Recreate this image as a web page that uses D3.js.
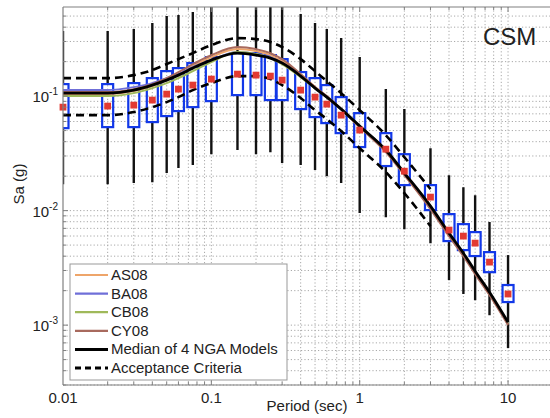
<!DOCTYPE html>
<html><head><meta charset="utf-8">
<script src="https://cdn.jsdelivr.net/npm/d3@7"></script>
<style>
body{margin:0;background:#fff}
svg{display:block}
text{font-family:"Liberation Sans",Arial,Helvetica,sans-serif;fill:#222}
</style>
</head><body>
<svg id="c" width="550" height="418"></svg>
<script>
// ---- data (Sa in g vs period in sec) ----
const periods = [0.01,0.02,0.03,0.04,0.05,0.06,0.075,0.1,0.15,0.2,0.25,0.3,0.4,0.5,0.6,0.75,1,1.5,2,3,4,5,6,7.5,10];
const recMedian = [0.0801,0.0818,0.0834,0.0923,0.1041,0.1151,0.1248,0.1408,0.1556,0.1525,0.1495,0.1379,0.1128,0.0980,0.0851,0.0682,0.0505,0.0344,0.0221,0.01312,0.00676,0.00599,0.00520,0.00355,0.00187];
const boxHigh = [0.1273,0.1273,0.1299,0.1436,0.1653,0.1756,0.1942,0.2191,0.2374,0.2374,0.2281,0.2104,0.1621,0.1436,0.1248,0.0980,0.0710,0.0475,0.0311,0.0167,0.00932,0.00762,0.00649,0.00434,0.00224];
const boxLow = [0.0525,0.0536,0.0536,0.0593,0.0669,0.0740,0.0801,0.0904,0.1020,0.1020,0.0923,0.0923,0.0770,0.0656,0.0581,0.0475,0.0359,0.0245,0.0167,0.0101,0.00542,0.00452,0.00401,0.00290,0.00159];
const whiskerHigh = [0.3695,0.3695,0.3848,0.4341,0.4997,0.5099,0.5417,0.762,0.762,0.762,0.762,0.762,0.5203,0.4341,0.3848,0.3210,0.2191,0.1151,0.0770,0.0351,0.0204,0.0160,0.01365,0.00794,0.00409];
const whiskerLow = [0.0170,0.0170,0.0174,0.0177,0.0213,0.0235,0.0250,0.0311,0.0338,0.0311,0.0324,0.0260,0.0250,0.0226,0.0200,0.0174,0.00951,0.00877,0.00689,0.00520,0.00247,0.00187,0.00165,0.00122,0.00063];

const as08 = [0.1041,0.1041,0.1105,0.1223,0.1379,0.1556,0.1828,0.2190,0.2573,0.2473,0.2280,0.2022,0.1525,0.1199,0.0980,0.0770,0.0536,0.0331,0.0205,0.01052,0.00611,0.00408,0.00284,0.00186,0.00102];
const ba08 = [0.1128,0.1128,0.1198,0.1299,0.1436,0.1556,0.1792,0.2062,0.2422,0.2327,0.2191,0.1942,0.1495,0.1175,0.0980,0.0770,0.0547,0.0338,0.0209,0.01073,0.00623,0.00417,0.00290,0.00190,0.00104];
const cb08 = [0.1000,0.1000,0.1062,0.1175,0.1298,0.1436,0.1653,0.1981,0.2422,0.2327,0.2147,0.1903,0.1465,0.1175,0.0980,0.0770,0.0547,0.0338,0.0213,0.01095,0.00623,0.00417,0.00290,0.00190,0.00104];
const cy08 = [0.1084,0.1084,0.1151,0.1273,0.1436,0.1620,0.1903,0.2279,0.2678,0.2573,0.2373,0.2105,0.1556,0.1199,0.1000,0.0770,0.0536,0.0325,0.0205,0.01031,0.00599,0.00400,0.00279,0.00183,0.00100];
const ngaMedian = [0.1062,0.1062,0.1128,0.1248,0.1379,0.1525,0.1756,0.2062,0.2374,0.2281,0.2147,0.1942,0.1495,0.1175,0.0980,0.0770,0.0547,0.0338,0.0213,0.01095,0.00636,0.00425,0.00296,0.00194,0.00106];

const accPeriods = [0.01,0.02,0.03,0.04,0.05,0.06,0.075,0.1,0.15,0.2,0.25,0.3,0.4,0.5,0.6,0.75,1,1.5,2,3];
const accUpper = [0.1436,0.1436,0.1525,0.1687,0.1904,0.2104,0.2374,0.2789,0.3210,0.3147,0.2963,0.2679,0.2104,0.1653,0.1352,0.1062,0.0754,0.0456,0.0293,0.01541];
const accLower = [0.0682,0.0682,0.0725,0.0801,0.0886,0.0980,0.1128,0.1299,0.1495,0.1495,0.1408,0.1248,0.0961,0.0754,0.0630,0.0495,0.0351,0.0217,0.01422,0.00732];

const modelNames = ["AS08","BA08","CB08","CY08"];
const modelColors = ["#eea56a","#6f6fd8","#9fb95a","#a86a5e"];
const xTickVals = [0.01,0.1,1,10];
const xTickLabels = ["0.01","0.1","1","10"];
const yTickVals = [1e-3,1e-2,1e-1];
const yTickExps = ["-3","-2","-1"];

// ---- layout ----
const svg = d3.select("#c");
const L = 63, T = 7, B = 385, R = 552.7;
const x = d3.scaleLog().domain([0.01, 20]).range([L, R]);
const y = d3.scaleLog().domain([3e-4, 0.6]).range([B, T]);

svg.append("defs").append("clipPath").attr("id","clip")
  .append("rect").attr("x",L).attr("y",T).attr("width",R-L).attr("height",B-T);

// grid
const gx = [], gy = [];
[0.01,0.1,1,10].forEach(d => { for (let k=1;k<=9;k++){ const v=d*k; if (v<=20 && v>0.01) gx.push(v);} });
[1e-4,1e-3,1e-2,1e-1].forEach(d => { for (let k=1;k<=9;k++){ const v=d*k; if (v>=3e-4 && v<0.6) gy.push(v);} });
const grid = svg.append("g").attr("stroke","#a8a8a8").attr("stroke-width",1).attr("stroke-dasharray","1.2,2.2");
grid.selectAll(".gx").data(gx).join("line").attr("x1",d=>x(d)).attr("x2",d=>x(d)).attr("y1",T).attr("y2",B);
grid.selectAll(".gy").data(gy).join("line").attr("y1",d=>y(d)).attr("y2",d=>y(d)).attr("x1",L).attr("x2",R);

const plot = svg.append("g").attr("clip-path","url(#clip)");
const rows = periods.map((p,i)=>({p, med:recMedian[i], bh:boxHigh[i], bl:boxLow[i], wh:whiskerHigh[i], wl:whiskerLow[i]}));

// whiskers
plot.append("g").attr("stroke","#111").attr("stroke-width",2.4)
  .selectAll("g").data(rows).join(enter => {
    const g = enter.append("g");
    g.append("line").attr("x1",d=>x(d.p)).attr("x2",d=>x(d.p)).attr("y1",d=>y(d.wh)).attr("y2",d=>y(d.bh));
    g.append("line").attr("x1",d=>x(d.p)).attr("x2",d=>x(d.p)).attr("y1",d=>y(d.bl)).attr("y2",d=>y(d.wl));
    return g;
  });
// boxes
plot.append("g").selectAll("rect").data(rows).join("rect")
  .attr("x",d=>x(d.p)-5.5).attr("width",11)
  .attr("y",d=>y(d.bh)).attr("height",d=>y(d.bl)-y(d.bh))
  .attr("fill","none").attr("stroke","#1238e8").attr("stroke-width",2.2);

// model lines
const line = d3.line().x(d=>x(d[0])).y(d=>y(d[1])).curve(d3.curveMonotoneX);
[as08,ba08,cb08,cy08].forEach((arr,i)=>{
  plot.append("path").attr("d", line(periods.map((p,j)=>[p,arr[j]])))
    .attr("fill","none").attr("stroke",modelColors[i]).attr("stroke-width",2);
});
plot.append("path").attr("d", line(periods.map((p,j)=>[p,ngaMedian[j]])))
  .attr("fill","none").attr("stroke","#000").attr("stroke-width",2.8);
[accUpper,accLower].forEach(arr=>{
  plot.append("path").attr("d", line(accPeriods.map((p,j)=>[p,arr[j]])))
    .attr("fill","none").attr("stroke","#000").attr("stroke-width",2.6).attr("stroke-dasharray","8,5");
});

// median markers
svg.append("g").selectAll("rect").data(rows).join("rect")
  .attr("x",d=>x(d.p)-3.4).attr("y",d=>y(d.med)-3.4).attr("width",6.8).attr("height",6.8)
  .attr("fill","#e23a32");

// frame
const fr = svg.append("g").attr("stroke","#808080").attr("stroke-width",1.2).attr("fill","none");
fr.append("line").attr("x1",L).attr("x2",L).attr("y1",T).attr("y2",B);
fr.append("line").attr("x1",L).attr("x2",R).attr("y1",B).attr("y2",B);
fr.append("line").attr("x1",L).attr("x2",R).attr("y1",T).attr("y2",T);

// tick marks
const tk = svg.append("g").attr("stroke","#808080").attr("stroke-width",1);
tk.selectAll(".tx").data(gx).join("line").attr("x1",d=>x(d)).attr("x2",d=>x(d))
  .attr("y1",B).attr("y2",d=>B-(xTickVals.includes(d)?5:3));
tk.selectAll(".tx2").data(gx).join("line").attr("x1",d=>x(d)).attr("x2",d=>x(d))
  .attr("y1",T).attr("y2",d=>T+(xTickVals.includes(d)?5:3));
tk.selectAll(".ty").data(gy).join("line").attr("y1",d=>y(d)).attr("y2",d=>y(d))
  .attr("x1",L).attr("x2",d=>L+(yTickVals.some(v=>Math.abs(v-d)<1e-12)?5:3));

// tick labels
svg.append("g").selectAll("text").data(xTickVals).join("text")
  .attr("x",d=>x(d)).attr("y",403).attr("text-anchor","middle").attr("font-size",15)
  .text((d,i)=>xTickLabels[i]);
const yl = svg.append("g").selectAll("text").data(yTickVals).join("text")
  .attr("x",58).attr("y",d=>y(d)+6).attr("text-anchor","end").attr("font-size",15);
yl.append("tspan").text("10");
yl.append("tspan").attr("dy",-7).attr("font-size",10).text((d,i)=>yTickExps[i]);

// axis titles
svg.append("text").attr("x",307).attr("y",411).attr("text-anchor","middle").attr("font-size",15).text("Period (sec)");
svg.append("text").attr("transform","translate(24,184) rotate(-90)").attr("text-anchor","middle").attr("font-size",15).text("Sa (g)");
svg.append("text").attr("x",483).attr("y",45).attr("font-size",24).text("CSM");

// legend
const lg = svg.append("g");
lg.append("rect").attr("x",70).attr("y",264).attr("width",217).attr("height",116)
  .attr("fill","#fff").attr("stroke","#999").attr("stroke-width",1);
const legItems = modelNames.map((n,i)=>({n, c:modelColors[i], w:2.2, dash:null}))
  .concat([{n:"Median of 4 NGA Models", c:"#000", w:3, dash:null},{n:"Acceptance Criteria", c:"#000", w:3, dash:"6,4"}]);
legItems.forEach((d,i)=>{
  const yy = 275 + i*18.6;
  lg.append("line").attr("x1",75).attr("x2",108).attr("y1",yy).attr("y2",yy)
    .attr("stroke",d.c).attr("stroke-width",d.w).attr("stroke-dasharray",d.dash);
  lg.append("text").attr("x",111).attr("y",yy+5).attr("font-size",15).text(d.n);
});
</script>
</body></html>
